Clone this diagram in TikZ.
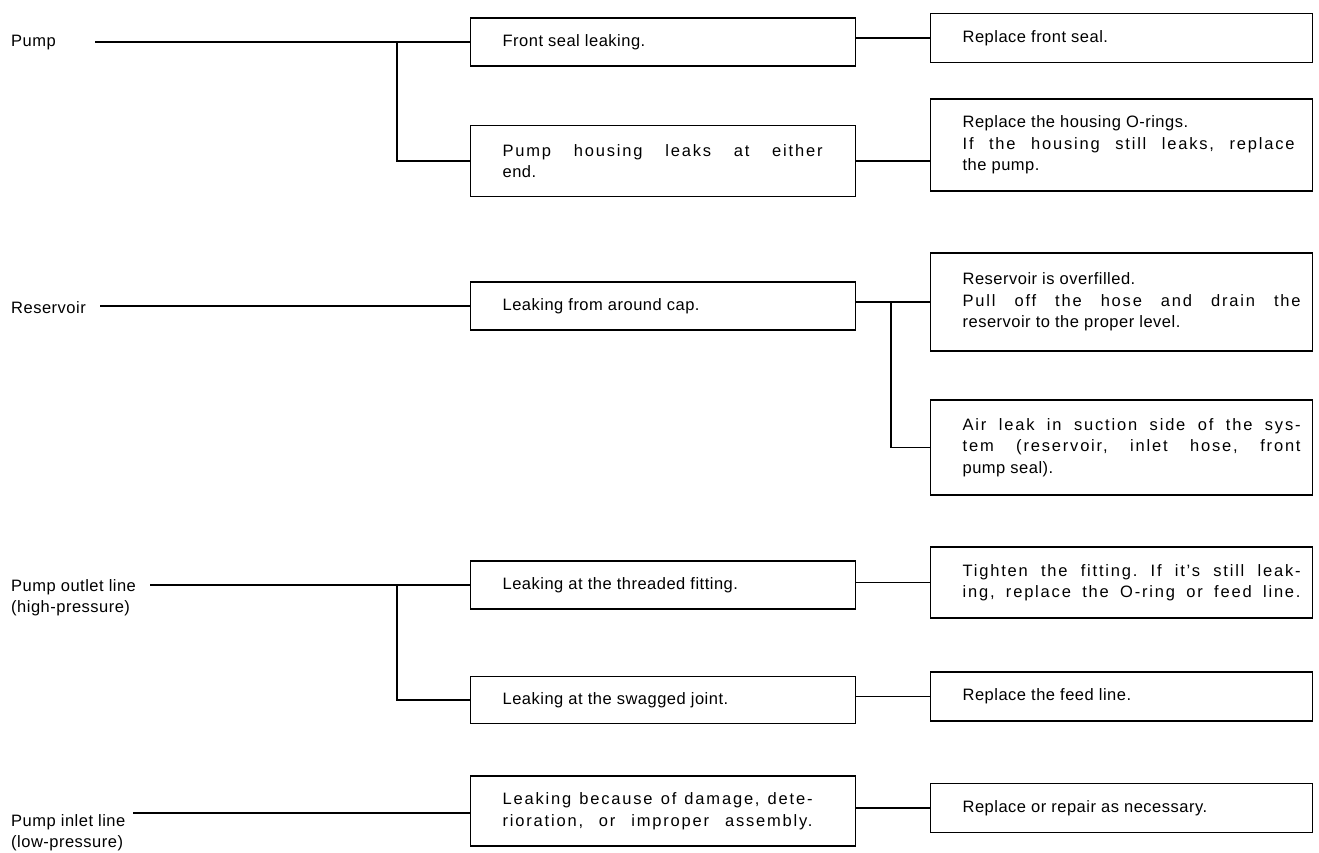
\documentclass[tikz,border=0pt]{standalone}
\usepackage{fontspec}
\setmainfont{Liberation Sans}[LetterSpace=3]
\frenchspacing
\newcommand\fs{\fontsize{16.5pt}{21.5pt}\selectfont}
\newcommand\mtext[1]{\makebox[385pt][l]{\hspace*{32pt}\parbox{325pt}{\raggedright #1}}}
\newcommand\rtext[1]{\makebox[382pt][l]{\hspace*{32pt}\parbox{340pt}{\raggedright #1}}}
\newcommand\jl[2]{\makebox[#1][s]{\addfontfeature{LetterSpace=11}#2}}
\tikzset{
  lbl/.style={anchor=west, align=left, inner sep=0pt, font=\fs},
  mbox/.style={draw, line width=1.2pt, minimum width=385pt, inner sep=0pt, anchor=west, font=\fs},
  rbox/.style={draw, line width=1.2pt, minimum width=382pt, inner sep=0pt, anchor=west, font=\fs},
  conn/.style={line width=1.2pt}
}
\begin{document}
\begin{tikzpicture}[x=1pt,y=-1pt]
\useasboundingbox (0,0) rectangle (1319,853);
% left labels
\node[lbl] (pump) at (11,43) {Pump};
\node[lbl] (res) at (11,308) {Reservoir};
\node[lbl,anchor=north west] (out) at (11,579) {Pump outlet line\\(high-pressure)};
\node[lbl,anchor=north west] (inl) at (11,814) {Pump inlet line\\(low-pressure)};
% middle boxes
\node[mbox, minimum height=48pt] (b1) at (470,42) {\mtext{Front seal leaking.}};
\node[mbox, minimum height=71pt] (b2) at (470,161) {\mtext{\jl{320pt}{Pump housing leaks at either}\\end.}};
\node[mbox, minimum height=48pt] (b3) at (470,306) {\mtext{Leaking from around cap.}};
\node[mbox, minimum height=48pt] (b5) at (470,585) {\mtext{Leaking at the threaded fitting.}};
\node[mbox, minimum height=47pt] (b6) at (470,700) {\mtext{Leaking at the swagged joint.}};
\node[mbox, minimum height=70pt] (b7) at (470,811) {\mtext{\jl{310pt}{Leaking because of damage, dete-}\\\jl{310pt}{rioration, or improper assembly.}}};
% right boxes
\node[rbox, minimum height=49pt] (r1) at (930,38) {\rtext{Replace front seal.}};
\node[rbox, minimum height=92pt] (r2) at (930,145) {\rtext{Replace the housing O-rings.\\\jl{332pt}{If the housing still leaks, replace}\\the pump.}};
\node[rbox, minimum height=98pt] (r3) at (930,302) {\rtext{Reservoir is overfilled.\\\jl{338pt}{Pull off the hose and drain the}\\reservoir to the proper level.}};
\node[rbox, minimum height=95pt] (r4) at (930,447.5) {\rtext{\jl{338pt}{Air leak in suction side of the sys-}\\\jl{338pt}{tem (reservoir, inlet hose, front}\\pump seal).}};
\node[rbox, minimum height=71pt] (r5) at (930,582.5) {\rtext{\jl{338pt}{Tighten the fitting. If it's still leak-}\\\jl{338pt}{ing, replace the O-ring or feed line.}}};
\node[rbox, minimum height=49pt] (r6) at (930,696.5) {\rtext{Replace the feed line.}};
\node[rbox, minimum height=49pt] (r7) at (930,808) {\rtext{Replace or repair as necessary.}};
% line starts and junctions
\coordinate (p0) at (95,42);
\coordinate (j1) at (397,42);
\coordinate (q0) at (100,306);
\coordinate (j2) at (891,302);
\coordinate (s0) at (150,585);
\coordinate (j3) at (397,585);
\coordinate (t0) at (133,813);
% connectors
\draw[conn] (p0) -- (p0 -| b1.west);
\draw[conn] (j1) |- (b2.west);
\draw[conn] (r1.west -| b1.east) -- (r1.west);
\draw[conn] (b2.east) -- (b2.east -| r2.west);
\draw[conn] (q0) -- (q0 -| b3.west);
\draw[conn] (r3.west -| b3.east) -- (r3.west);
\draw[conn] (j2) |- (r4.west);
\draw[conn] (s0) -- (s0 -| b5.west);
\draw[conn] (j3) |- (b6.west);
\draw[conn] (r5.west -| b5.east) -- (r5.west);
\draw[conn] (r6.west -| b6.east) -- (r6.west);
\draw[conn] (t0) -- (t0 -| b7.west);
\draw[conn] (r7.west -| b7.east) -- (r7.west);
\end{tikzpicture}
\end{document}
